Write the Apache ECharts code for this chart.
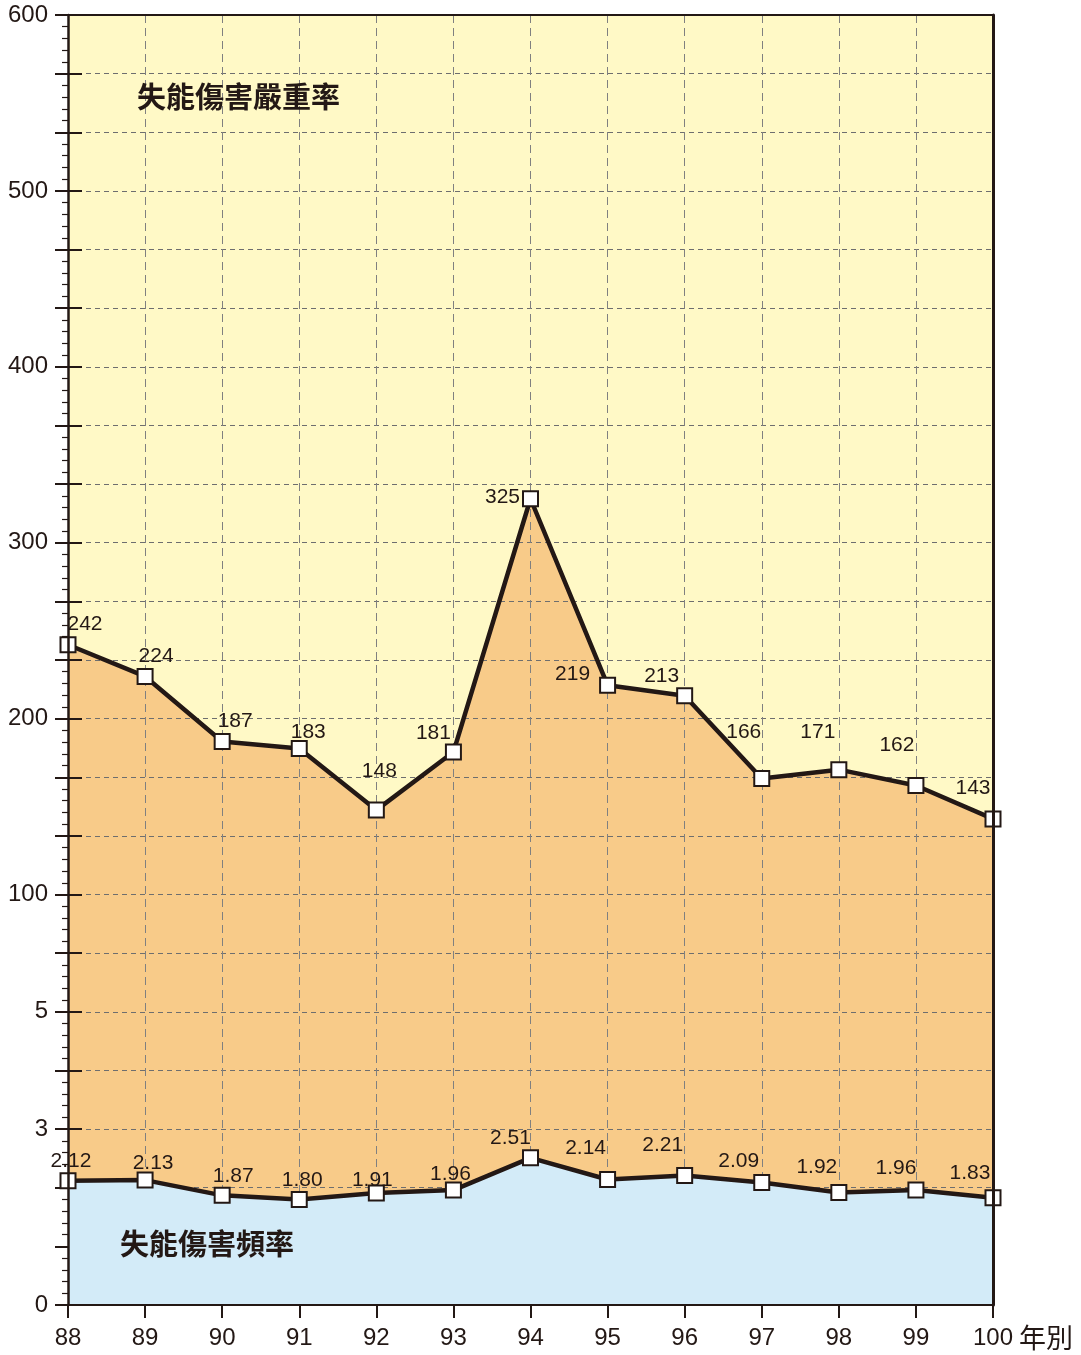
<!DOCTYPE html>
<html>
<head>
<meta charset="utf-8">
<script src="https://cdn.jsdelivr.net/npm/echarts@6.0.0/dist/echarts.min.js"></script>
<style>
    html, body { margin: 0; padding: 0; background: #fff; }
    #chart { width: 1081px; height: 1355px; }
</style>
</head>
<body>
<div id="chart"></div>
<script>
// 失能傷害嚴重率 / 頻率 折線面積圖（斷軸）

const years = ['88', '89', '90', '91', '92', '93', '94', '95', '96', '97', '98', '99', '100'];
const severity = [242, 224, 187, 183, 148, 181, 325, 219, 213, 166, 171, 162, 143];
const frequency = [2.12, 2.13, 1.87, 1.80, 1.91, 1.96, 2.51, 2.14, 2.21, 2.09, 1.92, 1.96, 1.83];

// 左軸刻度：下段 0~5 為頻率，上段 100~600 為嚴重率
const yTickPos = [0, 3, 5, 7, 10, 13, 16, 19, 22];
const yTickText = ['0', '3', '5', '100', '200', '300', '400', '500', '600'];

// 數值標籤偏移 (px)
const sevLabelShift = [[17, -21], [11, -20], [13, -20], [9, -16], [3, -39], [-20, -19], [-28, -2],
    [-35, -11], [-23, -20], [-18, -46], [-21, -37], [-19, -40], [-20, -31]];
const freqLabelShift = [[3, -19], [8, -17], [11, -19], [3, -19], [-4, -13], [-3, -16], [-20, -20],
    [-22, -31], [-22, -30], [-23, -21], [-22, -25], [-20, -22], [-23, -24]];

const ink = '#231815';
const fontFamily = 'Liberation Sans, Arial, sans-serif';
const cjkFont = '"Noto Sans CJK TC", "Noto Sans CJK SC", sans-serif';

const chart = echarts.init(document.getElementById('chart'));

const labelBase = {
    show: true,
    position: 'inside',
    fontSize: 21,
    fontFamily: fontFamily,
    color: ink,
    align: 'center',
    verticalAlign: 'middle'
};

const symbolStyle = { color: '#ffffff', borderColor: ink, borderWidth: 2 };

// 只畫一條線的輔助軸
function lineOnly(extra) {
    return Object.assign({
        axisTick: { show: false },
        axisLabel: { show: false },
        splitLine: { show: false }
    }, extra);
}

const option = {
    animation: false,
    grid: {
        left: 68, right: 88, top: 15, bottom: 50,
        outerBoundsMode: 'none',
        containLabel: false,
        show: true,
        backgroundColor: '#FFF9C6',
        borderWidth: 0
    },
    graphic: [
        {
            type: 'text', left: 137, top: 82, z: 10,
            style: { text: '失能傷害嚴重率', fontSize: 29, fontWeight: 'bold', fontFamily: cjkFont, fill: ink }
        },
        {
            type: 'text', left: 120, top: 1229, z: 10,
            style: { text: '失能傷害頻率', fontSize: 29, fontWeight: 'bold', fontFamily: cjkFont, fill: ink }
        }
    ],
    xAxis: [
        {
            // 垂直格線
            type: 'category', data: years, boundaryGap: false, position: 'bottom', z: 2,
            axisLine: { show: false, onZero: false }, axisTick: { show: false }, axisLabel: { show: false },
            splitLine: { show: true, interval: 0, lineStyle: { color: '#808080', width: 1, type: [8, 5] } }
        },
        lineOnly({
            // 上框線
            type: 'category', data: years, boundaryGap: false, position: 'top', z: 6,
            axisLine: { show: true, onZero: false, lineStyle: { color: ink, width: 2 } }
        }),
        {
            // 底部軸線與年份
            type: 'category', data: years, boundaryGap: false, position: 'bottom', z: 6,
            axisLine: { show: true, onZero: false, lineStyle: { color: ink, width: 2 } },
            axisTick: { show: true, interval: 0, length: 13, lineStyle: { color: ink, width: 2 } },
            axisLabel: { interval: 0, fontSize: 24, fontFamily: fontFamily, color: ink, margin: 21 },
            splitLine: { show: false },
            name: '年別',
            nameLocation: 'end',
            nameGap: 21,
            nameTextStyle: {
                fontSize: 27, fontFamily: cjkFont, color: ink,
                verticalAlign: 'top', padding: [19, 0, 0, 0]
            }
        }
    ],
    yAxis: [
        {
            // 頻率軸 0~22 格，顯示刻度文字與水平格線
            type: 'value', min: 0, max: 22, interval: 1, position: 'left', z: 2,
            axisLine: { show: false, onZero: false },
            axisTick: { show: true, inside: false, length: 13, lineStyle: { color: ink, width: 2 } },
            minorTick: { show: true, splitNumber: 5, length: 6, lineStyle: { color: ink, width: 1.2 } },
            axisLabel: {
                fontSize: 24, fontFamily: fontFamily, color: ink, margin: 20,
                formatter: function (v) {
                    const k = yTickPos.indexOf(Math.round(v));
                    return k >= 0 ? yTickText[k] : '';
                }
            },
            splitLine: { show: true, lineStyle: { color: '#6e6e6e', width: 1, type: [5, 4] } }
        },
        {
            // 嚴重率軸（隱藏），100 對齊第 7 格，600 對齊頂部
            type: 'value', min: -400 / 3, max: 600, position: 'left', show: false
        },
        {
            // 內側主刻度
            type: 'value', min: 0, max: 22, interval: 1, position: 'left', z: 2,
            axisLine: { show: false, onZero: false },
            axisTick: { show: true, inside: true, length: 14, lineStyle: { color: ink, width: 2 } },
            axisLabel: { show: false }, splitLine: { show: false }
        },
        lineOnly({
            // 右框線
            type: 'value', min: 0, max: 22, position: 'right', z: 6,
            axisLine: { show: true, onZero: false, lineStyle: { color: ink, width: 3 } }
        }),
        lineOnly({
            // 左軸線
            type: 'value', min: 0, max: 22, position: 'left', z: 6,
            axisLine: { show: true, onZero: false, lineStyle: { color: ink, width: 2.5 } }
        })
    ],
    series: [
        {
            name: '嚴重率面積',
            type: 'line',
            xAxisIndex: 0, yAxisIndex: 1,
            data: severity,
            symbol: 'none',
            silent: true,
            z: 1,
            lineStyle: { width: 0 },
            areaStyle: { color: '#F8CB89', opacity: 1, origin: 'start' }
        },
        {
            name: '失能傷害頻率',
            type: 'line',
            xAxisIndex: 0, yAxisIndex: 0,
            data: frequency.map((v, i) => ({ value: v, label: { offset: freqLabelShift[i] } })),
            symbol: 'rect',
            symbolSize: 15,
            z: 4,
            lineStyle: { color: ink, width: 4.5 },
            itemStyle: symbolStyle,
            areaStyle: { color: '#D3EBF8', opacity: 1, origin: 'start' },
            label: Object.assign({}, labelBase, {
                formatter: function (p) { return p.value.toFixed(2); }
            })
        },
        {
            name: '失能傷害嚴重率',
            type: 'line',
            xAxisIndex: 0, yAxisIndex: 1,
            data: severity.map((v, i) => ({ value: v, label: { offset: sevLabelShift[i] } })),
            symbol: 'rect',
            symbolSize: 15,
            z: 5,
            lineStyle: { color: ink, width: 4.5 },
            itemStyle: symbolStyle,
            label: Object.assign({}, labelBase, { formatter: '{c}' })
        }
    ]
};

chart.setOption(option);
</script>
</body>
</html>
